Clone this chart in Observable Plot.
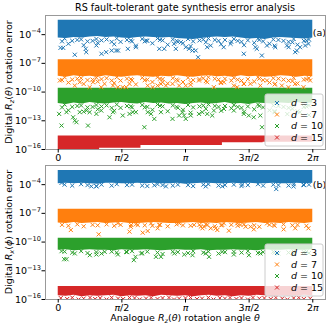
<!DOCTYPE html>
<html><head><meta charset="utf-8">
<script src="https://cdn.jsdelivr.net/npm/d3@7"></script>
<script src="https://cdn.jsdelivr.net/npm/@observablehq/plot@0.6"></script>
<style>
body{margin:0;background:#fff;font-family:"DejaVu Sans",sans-serif;}
#wrap{position:relative;width:330px;height:330px;overflow:hidden;}
#title{position:absolute;left:45px;width:280px;top:1px;line-height:14px;text-align:center;font-size:9.6px;color:#000;}
#wrap svg{position:absolute;left:0;}
</style></head><body><div id="wrap"><div id="title">RS fault-tolerant gate synthesis error analysis</div></div>
<script>
// ---------- categories / ticks ----------
const seriesLabels = ["3", "7", "10", "15"];
const seriesColors = ["#1f77b4", "#ff7f0e", "#2ca02c", "#d62728"];
const xTicks = [0, 0.5, 1, 1.5, 2];                 // in units of pi
const xTickLabels = ["0", "π/2", "π", "3π/2", "2π"];
const yTickExps = [-16, -13, -10, -7, -4];
const xGrid = [0,0.0625,0.125,0.1875,0.25,0.3125,0.375,0.4375,0.5,0.5625,0.625,0.6875,0.75,0.8125,0.875,0.9375,1,1.0625,1.125,1.1875,1.25,1.3125,1.375,1.4375,1.5,1.5625,1.625,1.6875,1.75,1.8125,1.875,1.9375,2];
const fuzzX1 = [0.03,0.08,0.15,0.2,0.27,0.31,0.38,0.44,0.49,0.57,0.61,0.68,0.74,0.8,0.86,0.93,0.98,1.04,1.11,1.16,1.23,1.28,1.36,1.41,1.46,1.54,1.58,1.66,1.7,1.77,1.84,1.88,1.95];
const fuzzX2 = [0.05,0.11,0.18,0.23,0.3,0.34,0.42,0.46,0.54,0.58,0.66,0.7,0.78,0.82,0.9,0.94,1.02,1.06,1.14,1.18,1.26,1.31,1.38,1.44,1.49,1.57,1.61,1.69,1.73,1.81,1.85,1.93,1.97];

// ---------- panel (a): log10 error ----------
const bandTopA = [-2.5, -6.63, -9.6, -14.6];
const blueA_low = [-4.35,-4.4,-4.3,-4.35,-4.25,-4.2,-4.3,-4.25,-4.35,-4.4,-4.3,-4.25,-4.3,-4.35,-4.3,-4.4,-4.45,-4.5,-4.4,-4.3,-4.25,-4.3,-4.25,-4.35,-4.45,-4.4,-4.5,-4.35,-4.3,-4.35,-4.4,-4.45,-4.35];
const orangeA_low = [-8.35,-8.45,-8.3,-8.4,-8.35,-8.45,-8.3,-8.4,-8.45,-8.35,-8.3,-8.4,-8.45,-8.35,-8.4,-8.3,-8.4,-8.45,-8.35,-8.3,-8.4,-8.35,-8.45,-8.3,-8.4,-8.35,-8.45,-8.4,-8.3,-8.35,-8.45,-8.35,-8.4];
const greenA_low = [-11.2,-11.3,-11.15,-11.25,-11.1,-11.2,-11.25,-11.15,-11.1,-11.2,-11.25,-11.1,-11.2,-11.15,-11.25,-11.2,-11.3,-11.2,-11.15,-11.25,-11.2,-11.1,-11.25,-11.2,-11.3,-11.15,-11.2,-11.25,-11.15,-11.2,-11.1,-11.2,-11.15];
const redA_x = [0, 0.325, 0.65, 1.29, 1.61, 2.0];
const redA_low = [-16.5, -15.86, -15.58, -15.3, -15.24, -15.24];
const blueA_fz1 = [-4.7,-4.95,-4.55,-5.1,-4.65,-4.85,-4.5,-5.0,-4.75,-4.6,-5.15,-4.7,-4.9,-4.55,-5.05,-4.65,-4.9,-5.2,-4.6,-4.8,-4.55,-5.0,-4.75,-4.65,-5.1,-4.85,-4.55,-4.95,-5.15,-4.65,-4.8,-5.05,-4.6];
const blueA_fz2 = [-4.4,-4.65,-4.5,-4.7,-4.45,-4.6,-4.75,-4.4,-4.55,-4.7,-4.45,-4.65,-4.4,-4.6,-4.5,-4.75,-4.45,-4.7,-4.5,-4.4,-4.65,-4.55,-4.45,-4.75,-4.6,-4.4,-4.7,-4.5,-4.55,-4.75,-4.45,-4.65,-4.5];
const orangeA_fz1 = [-8.75,-9.0,-8.6,-9.15,-8.7,-8.9,-8.55,-9.05,-8.8,-8.65,-9.2,-8.75,-8.95,-8.6,-9.1,-8.7,-8.95,-9.25,-8.65,-8.85,-8.6,-9.05,-8.8,-8.7,-9.15,-8.9,-8.6,-9.0,-9.2,-8.7,-8.85,-9.1,-8.65];
const orangeA_fz2 = [-8.45,-8.7,-8.55,-8.75,-8.5,-8.65,-8.8,-8.45,-8.6,-8.75,-8.5,-8.7,-8.45,-8.65,-8.55,-8.8,-8.5,-8.75,-8.55,-8.45,-8.7,-8.6,-8.5,-8.8,-8.65,-8.45,-8.75,-8.55,-8.6,-8.8,-8.5,-8.7,-8.55];
const greenA_fz1 = [-11.6,-11.9,-11.45,-12.05,-11.55,-11.8,-11.4,-11.95,-11.65,-11.5,-12.1,-11.6,-11.85,-11.45,-12.0,-11.55,-11.85,-12.15,-11.5,-11.75,-11.45,-11.95,-11.7,-11.55,-12.05,-11.8,-11.45,-11.9,-12.1,-11.55,-11.75,-12.0,-11.5];
const greenA_fz2 = [-11.3,-11.55,-11.4,-11.6,-11.35,-11.5,-11.65,-11.3,-11.45,-11.6,-11.35,-11.55,-11.3,-11.5,-11.4,-11.65,-11.35,-11.6,-11.4,-11.3,-11.55,-11.45,-11.35,-11.65,-11.5,-11.3,-11.6,-11.4,-11.45,-11.65,-11.35,-11.55,-11.4];
const blueA_pts = [[0.018,-5.38],[0.039,-5.38],[0.13,-6.1],[0.216,-5.48],[0.22,-5.83],[0.3,-5.13],[0.34,-6.0],[0.377,-5.83],[0.42,-5.66],[0.455,-5.66],[0.47,-5.66],[0.547,-5.48],[0.61,-5.31],[0.69,-4.61],[0.794,-5.48],[0.833,-5.48],[0.91,-4.96],[0.924,-5.48],[0.963,-4.79],
  [1.002,-5.31],[1.028,-5.48],[1.055,-5.66],[1.08,-5.66],[1.099,-6.36],[1.17,-5.31],[1.198,-5.14],[1.30,-5.31],[1.354,-4.96],[1.458,-6.0],[1.549,-5.31],[1.56,-5.48],[1.60,-6.18],[1.64,-5.14],[1.705,-5.31],[1.797,-5.14],[1.81,-5.31],[1.862,-5.83],[1.875,-5.66],[1.90,-5.31],[1.94,-5.14],[1.966,-4.96]];
const orangeA_pts = [[0.013,-8.79],[0.13,-9.32],[0.169,-8.97],[0.247,-9.49],[0.273,-8.97],[0.338,-9.49],[0.364,-9.14],[0.43,-9.32],[0.468,-9.49],[0.507,-9.49],[0.534,-9.49],[0.56,-9.14],[0.703,-9.32],[0.742,-9.49],[0.781,-9.32],[0.807,-9.14],[0.82,-8.97],[0.846,-9.32],[0.898,-9.14],[0.95,-9.32],
  [1.002,-9.32],[1.041,-8.97],[1.106,-8.79],[1.171,-8.97],[1.223,-9.49],[1.275,-8.97],[1.302,-8.97],[1.38,-9.32],[1.406,-9.49],[1.458,-9.14],[1.51,-9.14],[1.588,-9.32],[1.64,-8.79],[1.705,-9.14],[1.757,-9.32],[1.809,-9.49],[1.861,-9.14],[1.927,-9.49],[1.979,-8.79]];
const greenA_pts = [[0.007,-12.28],[0.026,-13.5],[0.065,-12.1],[0.117,-12.63],[0.13,-12.98],[0.143,-13.15],[0.169,-12.1],[0.221,-11.93],[0.234,-13.5],[0.247,-12.1],[0.3,-12.28],[0.338,-11.93],[0.403,-12.63],[0.43,-12.1],[0.507,-12.45],[0.56,-12.28],[0.586,-12.1],[0.677,-13.67],[0.703,-12.1],[0.729,-12.28],[0.755,-12.8],[0.807,-12.1],[0.898,-12.8],[0.95,-12.45],[0.976,-12.1],
  [0.989,-12.45],[1.002,-12.8],[1.041,-12.45],[1.106,-12.28],[1.132,-12.1],[1.171,-12.28],[1.21,-12.45],[1.223,-11.93],[1.302,-11.76],[1.38,-11.93],[1.458,-12.28],[1.497,-12.45],[1.536,-12.63],[1.588,-12.45],[1.601,-13.67],[1.7,-12.0],[1.8,-12.3],[1.9,-12.1],[1.97,-12.4]];
const redA_pts = [];

// ---------- panel (b): log10 error ----------
const bandTopB = [-2.53, -6.56, -9.61, -14.63];
const blueB_low = [-3.9,-3.85,-3.9,-3.85,-3.9,-3.95,-3.85,-3.85,-3.9,-3.9,-3.85,-3.9,-3.85,-3.9,-3.9,-3.85,-3.95,-3.9,-3.85,-3.85,-3.9,-3.9,-3.85,-3.9,-3.85,-3.9,-3.9,-3.85,-3.9,-3.9,-3.85,-3.9,-3.85];
const orangeB_low = [-8.0,-8.05,-7.95,-8.05,-8.0,-7.95,-8.05,-8.0,-7.95,-8.05,-8.05,-8.0,-7.95,-8.0,-8.05,-8.05,-8.0,-7.95,-8.05,-8.0,-8.05,-7.95,-8.0,-8.05,-8.0,-7.95,-8.05,-8.0,-8.05,-7.95,-8.0,-8.05,-7.95];
const greenB_low = [-10.85,-10.8,-10.9,-10.85,-10.8,-10.85,-10.85,-10.9,-10.8,-10.85,-10.85,-10.8,-10.85,-10.9,-10.85,-10.8,-10.85,-10.85,-10.8,-10.9,-10.85,-10.85,-10.8,-10.85,-10.85,-10.9,-10.8,-10.85,-10.85,-10.8,-10.85,-10.85,-10.8];
const redB_low = [-15.6,-15.65,-15.55,-15.7,-15.6,-15.65,-15.6,-15.55,-15.7,-15.6,-15.65,-15.6,-15.7,-15.55,-15.6,-15.65,-15.6,-15.7,-15.6,-15.55,-15.65,-15.6,-15.7,-15.6,-15.65,-15.55,-15.6,-15.7,-15.6,-15.65,-15.6,-15.55,-15.6];
const blueB_fz = [-4.0,-4.1,-3.95,-4.05,-4.15,-4.0,-4.1,-3.95,-4.05,-4.0,-4.1,-4.15,-3.95,-4.05,-4.1,-4.0,-4.05,-4.15,-4.0,-3.95,-4.1,-4.05,-4.0,-4.15,-4.05,-3.95,-4.1,-4.0,-4.05,-4.1,-3.95,-4.05,-4.0];
const orangeB_fz = [-8.2,-8.3,-8.15,-8.35,-8.2,-8.25,-8.15,-8.3,-8.2,-8.4,-8.15,-8.25,-8.3,-8.2,-8.35,-8.15,-8.25,-8.3,-8.2,-8.15,-8.35,-8.25,-8.2,-8.3,-8.15,-8.25,-8.4,-8.2,-8.3,-8.15,-8.25,-8.2,-8.3];
const greenB_fz = [-11.0,-11.1,-10.95,-11.15,-11.05,-11.2,-11.0,-11.1,-11.05,-10.95,-11.15,-11.0,-11.1,-11.25,-11.0,-11.05,-11.15,-10.95,-11.1,-11.0,-11.2,-11.05,-11.0,-11.1,-10.95,-11.15,-11.05,-11.0,-11.2,-11.1,-11.0,-11.05,-11.15];
const blueB_pts = [[0.026,-3.82],[0.26,-4.18],[0.30,-4.18],[0.755,-4.07],[0.846,-4.18],[1.159,-4.18],[1.289,-4.18],[1.445,-4.0],[1.713,-4.46],[1.849,-4.18],[1.927,-4.0]];
const orangeB_pts = [[0.099,-8.74],[0.318,-9.19],[0.469,-8.04],[0.56,-8.91],[0.573,-8.21],[0.625,-8.21],[0.664,-9.02],[0.703,-8.84],[0.729,-8.04],[0.781,-8.56],[0.794,-8.21],[0.951,-8.04],[1.068,-8.21],[1.12,-8.39],[1.133,-8.56],[1.146,-8.39],[1.172,-8.21],[1.198,-8.56],[1.237,-8.56],[1.25,-8.74],[1.289,-8.21],[1.302,-8.04],[1.341,-8.81],[1.406,-8.04],[1.432,-8.21],[1.472,-8.39],[1.511,-8.39],[1.537,-8.67],[1.641,-8.04],[1.693,-8.21],[1.771,-8.67],[1.862,-8.56],[1.966,-8.56]];
const greenB_pts = [[0.026,-10.95],[0.047,-11.79],[0.065,-11.79],[0.13,-11.19],[0.248,-11.37],[0.30,-11.3],[0.365,-11.02],[0.469,-11.3],[0.534,-11.02],[0.594,-11.89],[0.607,-11.54],[0.651,-11.19],[0.768,-11.54],[0.807,-11.54],[0.912,-11.19],[0.99,-11.3],[1.055,-11.37],[1.159,-11.19],[1.185,-11.54],[1.289,-11.02],[1.38,-11.3],[1.498,-11.37],[1.589,-11.19],[1.7,-11.1],[1.85,-11.2],[1.95,-11.0]];
const redB_pts = [[0.02,-15.85],[0.07,-15.95],[0.11,-15.8],[0.16,-16.0],[0.2,-15.9],[0.25,-15.8],[0.29,-15.95],[0.33,-15.85],[0.38,-16.0],[0.42,-15.8],[0.47,-15.9],[0.51,-15.95],[0.56,-15.8],[0.6,-15.85],[0.64,-16.0],[0.69,-15.9],[0.73,-15.8],[0.78,-15.95],[0.82,-15.85],[0.87,-15.8],[0.91,-16.0],[0.95,-15.9],[1.0,-15.85],[1.04,-15.8],[1.09,-15.95],[1.13,-15.9],[1.18,-15.8],[1.22,-16.0],[1.27,-15.85],[1.31,-15.9],[1.35,-15.8],[1.4,-15.95],[1.44,-15.85],[1.49,-16.0],[1.53,-15.8],[1.58,-15.9],[1.62,-15.85],[1.67,-15.95],[1.71,-15.8],[1.76,-15.9],[1.8,-16.0],[1.85,-15.85],[1.89,-15.8],[1.93,-15.95],[1.98,-15.9]];

const panelTagA = [{x: 2, e: -3.85, label: "(a)"}];
const panelTagB = [{x: 2, e: -4.0, label: "(b)"}];

// ---------- drawing ----------
const FS = 9.5;
function richText(sel, segs, fs) {
  let shift = 0;
  for (const [t, k] of segs) {
    const ts = sel.append("tspan").text(t);
    const target = k === "sub" ? 0.28 * fs : k === "sup" ? -0.45 * fs : 0;
    if (target !== shift) { ts.attr("dy", target - shift); shift = target; }
    if (k === "sub" || k === "sup") ts.attr("font-size", 0.7 * fs);
    if (k === "i" || k === "sub") ts.attr("font-style", "italic");
  }
}
const pair = (xs, ys) => xs.map((x, i) => [x, ys[i]]);

function panel(cfg) {
  const bands = [];
  const xs = [xGrid, xGrid, xGrid, cfg.redX || xGrid];
  cfg.lows.forEach((low, s) => {
    bands.push(Plot.areaY(low.map((v, i) => ({x: xs[s][i], lo: v, hi: cfg.tops[s]})), {
      x: "x", y1: d => 10 ** d.lo, y2: d => 10 ** d.hi, fill: seriesColors[s],
      curve: (s === 3 && cfg.redX) ? "step-after" : "linear", clip: true
    }));
  });
  const dots = cfg.pts.map((p, s) => Plot.dot(p, {
    x: d => d[0], y: d => 10 ** d[1], symbol: "times", r: 2, stroke: seriesColors[s], strokeWidth: 1, clip: true
  }));
  const svg = Plot.plot({
    width: 330, height: cfg.height,
    marginLeft: 45, marginRight: 5, marginTop: 15, marginBottom: cfg.height - 149,
    style: {fontFamily: "DejaVu Sans", fontSize: FS + "px", background: "transparent", color: "#000"},
    x: {domain: [-0.1, 2.1]},
    y: {type: "log", domain: [1e-16, cfg.yTop]},
    marks: [
      ...bands, ...dots,
      Plot.text(cfg.tag, {x: "x", y: d => 10 ** d.e, text: "label", textAnchor: "start", fontSize: FS}),
      Plot.frame({stroke: "#999"}),
      Plot.axisY({ticks: yTickExps.map(e => 10 ** e), tickSize: 3.5, tickPadding: 1, label: null,
        tickFormat: v => "10^" + Math.round(Math.log10(v))}),
      Plot.axisX({ticks: xTicks, tickSize: 3.5, tickPadding: 1, label: null,
        tickFormat: v => xTickLabels[xTicks.indexOf(v)]})
    ]
  });
  const root = d3.select(svg);
  root.style("top", cfg.top + "px");
  root.selectAll('g[aria-label="y-axis tick label"] text').each(function () {
    const exp = this.textContent.split("^")[1];
    this.textContent = "";
    richText(d3.select(this), [["10", ""], ["−" + exp.replace("-", ""), "sup"]], FS);
  });
  root.selectAll('g[aria-label="x-axis tick label"] text').each(function () {
    const parts = this.textContent.split("π");
    this.textContent = "";
    const segs = [];
    parts.forEach((p, i) => { if (p) segs.push([p, ""]); if (i < parts.length - 1) segs.push(["π", "i"]); });
    richText(d3.select(this), segs, FS);
  });
  // y label
  const yl = root.append("text").attr("transform", `translate(9,82) rotate(-90)`)
    .attr("text-anchor", "middle").attr("dominant-baseline", "middle").attr("font-size", FS);
  richText(yl, cfg.ylabel, FS);
  // legend
  const lg = root.append("g").attr("text-anchor", "start");
  lg.append("rect").attr("x", 265).attr("y", 94).attr("width", 58).attr("height", 52).attr("rx", 2)
    .attr("fill", "white").attr("fill-opacity", 0.8).attr("stroke", "#ccc");
  seriesLabels.forEach((lab, i) => {
    const y = 103 + i * 11.5;
    lg.append("path").attr("d", `M${277-2},${y-2}L${277+2},${y+2}M${277-2},${y+2}L${277+2},${y-2}`)
      .attr("stroke", seriesColors[i]).attr("stroke-width", 1);
    const t = lg.append("text").attr("x", 291).attr("y", y).attr("text-anchor", "start")
      .attr("dominant-baseline", "middle").attr("font-size", FS);
    richText(t, [["d", "i"], [" = " + lab, ""]], FS);
  });
  if (cfg.xlabel) {
    const xl = root.append("text").attr("x", 185).attr("y", 168).attr("text-anchor", "middle")
      .attr("dominant-baseline", "middle").attr("font-size", FS);
    richText(xl, cfg.xlabel, FS);
  }
  document.getElementById("wrap").appendChild(svg);
}

panel({
  top: 0, height: 165, yTop: 1e-2,
  tops: bandTopA, lows: [blueA_low, orangeA_low, greenA_low, redA_low], redX: redA_x,
  pts: [
    [...blueA_pts, ...pair(fuzzX1, blueA_fz1), ...pair(fuzzX2, blueA_fz2)],
    [...orangeA_pts, ...pair(fuzzX1, orangeA_fz1), ...pair(fuzzX2, orangeA_fz2)],
    [...greenA_pts, ...pair(fuzzX1, greenA_fz1), ...pair(fuzzX2, greenA_fz2)],
    redA_pts],
  tag: panelTagA,
  ylabel: [["Digital ", ""], ["R", "i"], ["z", "sub"], ["(", ""], ["θ", "i"], [") rotation error", ""]]
});
panel({
  top: 150, height: 180, yTop: 1e-2,
  tops: bandTopB, lows: [blueB_low, orangeB_low, greenB_low, redB_low],
  pts: [
    [...blueB_pts, ...pair(fuzzX2, blueB_fz)],
    [...orangeB_pts, ...pair(fuzzX1, orangeB_fz)],
    [...greenB_pts, ...pair(fuzzX2, greenB_fz)],
    redB_pts],
  tag: panelTagB,
  ylabel: [["Digital ", ""], ["R", "i"], ["x", "sub"], ["(", ""], ["ϕ", "i"], [") rotation error", ""]],
  xlabel: [["Analogue ", ""], ["R", "i"], ["z", "sub"], ["(", ""], ["θ", "i"], [") rotation angle ", ""], ["θ", "i"]]
});
</script></body></html>
